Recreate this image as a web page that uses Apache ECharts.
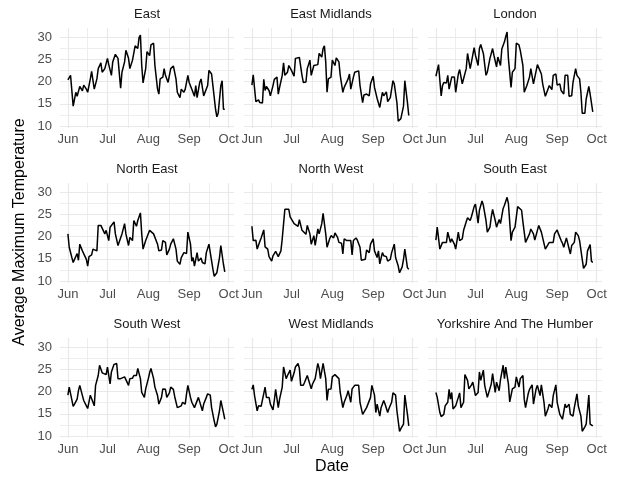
<!DOCTYPE html>
<html>
<head>
<meta charset="utf-8">
<script src="https://cdn.jsdelivr.net/npm/echarts@6/dist/echarts.min.js"></script>
<style>
html,body{margin:0;padding:0;background:#fff;}
#chart{width:631px;height:478px;}
</style>
</head>
<body>
<div id="chart"></div>
<script>
// Regions (facet order)
const regions = ['East','East Midlands','London','North East','North West','South East','South West','West Midlands','Yorkshire And The Humber'];

// x: days since 1 June; y: average maximum temperature
const eastDays = [0,2,4,6,7,9,11,12,14,15,17,18,20,22,23,25,26,28,30,31,33,34,36,38,40,41,43,44,46,47,49,50,51,53,54,55,56,57,59,60,62,63,65,66,68,69,70,72,73,74,76,77,78,80,82,83,85,86,88,89,91,92,94,96,97,98,100,101,103,104,106,107,109,110,112,113,114,116,117,118,119];
const eastTemp = [20.4,21.4,14.5,17.6,16.7,18.9,17.9,19.2,18.3,17.6,20.6,22.3,18.3,20.6,22.9,24.2,22.1,22.9,25.2,23.8,21.4,24.4,26.1,25.2,18.5,22.1,24.4,27.0,25.2,22.9,24.8,24.5,28.0,27.4,29.9,30.4,23.6,19.7,22.9,26.7,25.8,28.2,28.6,23.6,18.3,17.2,20.6,21.0,22.9,21.4,19.8,21.4,22.9,23.5,20.6,17.6,16.4,18.3,17.6,18.3,21.4,19.8,18.3,16.7,19.1,16.4,19.8,20.6,16.8,16.7,19.1,22.5,21.7,19.1,13.8,12.1,12.9,19.1,20.2,13.8,13.8];

const eastMidDays = [0,1,3,5,6,8,9,10,11,13,14,16,17,19,20,21,23,24,25,27,28,29,30,32,33,36,38,39,41,42,44,45,47,48,50,51,53,54,55,56,57,58,60,61,63,64,66,67,69,70,71,73,74,75,77,78,81,82,84,85,87,89,90,92,93,95,96,97,99,100,102,103,105,107,108,110,111,113,115,116,118,119];
const eastMidTemp = [19.2,21.5,15.5,15.9,15.3,15.2,20.5,18.0,18.9,18.0,16.8,19.1,20.5,21.0,17.2,18.7,21.4,24.2,21.4,22.1,23.6,23.8,22.5,21.2,25.2,25.4,21.4,19.8,19.9,22.9,24.8,21.4,23.6,23.3,23.8,26.3,25.5,27.4,28.0,24.4,17.6,20.6,21.0,24.8,23.6,25.3,24.4,21.4,17.6,18.7,19.1,20.6,21.7,18.3,21.0,22.1,22.4,19.1,15.3,17.0,17.2,16.8,19.5,21.2,18.7,16.2,16.4,14.2,17.6,16.8,17.7,15.5,16.4,20.2,19.5,15.3,11.1,11.7,14.5,20.2,15.3,12.4];

const londonDays = [0,2,4,5,6,8,9,10,12,13,14,15,17,18,20,21,23,24,26,27,29,30,32,33,34,36,38,39,41,43,44,46,47,49,50,52,53,54,55,57,58,60,61,63,64,66,67,69,71,72,74,75,77,78,80,81,83,85,86,88,89,91,92,94,95,97,98,100,101,103,104,106,107,109,110,111,113,114,116,117,119];
const londonTemp = [21.2,23.8,16.8,19.1,19.8,19.7,21.4,18.3,21.0,20.6,21.0,17.6,21.7,22.7,19.5,19.8,22.9,26.3,22.9,24.4,27.6,25.9,23.6,27.4,28.3,26.3,21.4,22.1,25.2,27.4,25.9,23.3,25.5,23.6,27.3,28.9,30.1,31.1,25.2,18.7,22.1,22.9,28.6,28.2,27.0,23.6,17.6,19.1,21.0,22.9,19.5,19.8,23.8,24.2,21.7,19.5,16.7,18.3,19.1,18.2,21.4,21.7,19.2,19.5,18.0,17.2,21.4,21.4,16.7,16.8,19.8,22.9,21.4,20.6,17.6,12.9,12.9,16.1,18.9,17.2,13.2];

const northEastDays = [0,1,3,4,5,7,8,9,11,12,14,15,16,18,19,20,22,23,25,26,28,29,31,32,33,35,36,38,39,41,43,44,46,47,49,50,52,53,55,56,57,59,60,62,63,65,66,68,69,71,72,74,75,77,78,80,82,83,85,86,88,90,91,93,94,95,96,98,99,101,102,104,105,107,108,110,111,113,115,116,118,119];
const northEastTemp = [20.6,17.6,15.3,14.2,14.9,16.2,14.7,18.3,16.8,16.4,14.9,13.4,15.5,15.9,17.2,16.8,16.8,22.5,22.5,22.9,20.6,21.4,19.1,22.1,22.3,23.3,20.6,18.0,18.3,20.6,22.9,20.6,18.0,19.8,19.1,23.6,22.3,23.6,25.3,20.6,17.2,19.1,19.1,21.4,21.0,20.6,20.2,18.3,16.8,17.0,19.1,18.7,15.9,17.2,18.3,19.5,17.2,14.5,13.8,15.3,16.4,16.2,21.0,18.3,14.5,15.3,13.4,16.4,14.5,15.2,14.2,13.9,16.4,18.3,16.4,12.7,11.1,11.9,15.3,18.0,13.8,12.1];

const northWestDays = [0,1,3,4,6,7,9,10,12,13,15,16,18,19,20,22,23,25,26,28,29,30,32,33,35,36,38,39,41,42,44,45,47,48,50,51,53,54,56,57,59,60,62,63,65,66,68,69,70,72,73,75,76,77,79,80,82,83,84,86,87,89,90,92,93,95,96,97,99,100,102,103,105,106,108,109,111,112,114,115,116,118,119];
const northWestTemp = [22.3,19.1,19.2,17.2,18.9,19.7,21.5,17.7,17.2,15.5,14.5,15.7,16.7,16.8,15.5,16.8,19.5,26.1,26.5,26.1,24.4,24.8,22.9,23.3,22.3,23.8,21.4,21.4,20.5,22.5,20.6,18.3,20.2,18.0,21.7,20.6,22.9,25.2,20.6,17.6,19.5,20.2,19.7,20.8,19.8,18.7,18.5,16.1,19.5,19.1,18.7,19.1,15.9,19.1,19.7,19.2,17.6,14.7,14.4,14.9,17.0,16.4,18.3,19.5,16.8,15.3,16.8,13.9,16.4,15.7,15.5,14.5,14.9,16.4,18.3,15.3,13.4,11.9,13.2,14.9,17.2,13.0,12.7];

const southEastDays = [0,1,3,5,6,8,9,11,12,14,15,17,18,20,21,23,24,26,27,29,30,32,33,35,36,38,39,41,42,43,45,46,48,49,51,52,54,55,57,58,60,62,63,65,66,68,69,71,72,74,75,77,78,80,81,83,84,86,87,89,90,92,93,95,96,97,99,100,102,103,105,106,108,109,111,112,114,115,117,118,119];
const southEastTemp = [19.2,22.1,17.2,18.7,19.1,18.7,21.0,18.7,19.5,18.3,17.2,21.0,19.1,19.5,21.4,23.3,24.2,23.6,24.5,26.7,27.3,23.0,25.9,28.0,27.0,23.6,21.0,22.1,24.4,26.1,23.6,22.1,23.8,22.9,26.3,27.0,28.8,27.4,19.1,21.0,22.1,26.7,26.3,25.9,23.3,18.7,19.1,20.6,21.7,20.6,19.2,21.4,22.5,21.0,20.6,17.2,17.6,18.7,18.5,18.7,20.6,21.5,20.6,19.1,18.5,17.6,19.7,19.8,16.1,18.0,18.7,21.0,20.2,19.1,14.9,12.9,13.8,16.8,18.2,14.5,14.2];

const southWestDays = [0,1,2,4,5,7,8,9,11,12,14,15,17,18,20,21,23,24,26,27,29,30,32,33,35,37,38,40,41,43,44,46,47,49,50,52,53,55,56,58,59,61,62,63,65,66,68,69,71,72,74,75,77,78,80,81,83,84,86,87,89,90,91,93,94,96,97,99,100,102,103,105,106,108,109,111,112,113,115,116,118,119];
const southWestTemp = [19.2,21.0,21.2,16.7,17.2,18.3,20.2,21.4,19.1,18.0,16.8,16.2,19.2,19.5,16.8,21.4,23.6,25.9,24.2,24.2,23.8,25.5,21.7,24.4,26.1,26.3,22.9,22.9,22.5,23.3,23.6,21.4,22.9,23.0,23.6,23.6,25.2,22.9,19.8,18.7,20.6,22.9,24.2,25.2,22.9,21.0,19.1,17.2,18.7,20.6,20.5,18.7,19.7,21.0,20.5,18.9,16.4,16.1,16.8,17.6,17.2,19.5,21.4,18.7,17.6,16.4,16.1,18.7,18.7,15.7,17.2,18.7,19.5,19.2,16.4,13.4,12.1,12.7,15.7,18.0,15.3,13.8];

const westMidDays = [0,1,2,4,5,7,8,10,11,13,14,16,17,18,20,21,23,24,26,27,29,30,32,33,35,36,37,39,40,42,43,45,46,48,49,50,51,52,54,55,56,57,58,60,61,63,64,66,67,69,70,72,73,75,76,78,79,81,82,84,85,87,88,90,91,93,94,95,97,98,100,101,103,104,106,107,109,110,112,113,115,116,118,119];
const westMidTemp = [20.5,21.5,19.1,15.7,16.8,16.7,16.7,21.0,18.7,18.7,17.2,15.9,18.0,20.5,16.4,18.3,21.0,25.5,22.9,23.6,24.8,22.3,24.2,25.5,26.3,25.2,21.4,21.4,22.1,23.6,23.8,20.6,21.7,22.9,22.5,26.3,25.2,22.9,26.3,26.7,22.9,18.0,20.5,20.6,23.3,23.8,24.0,22.9,19.8,16.4,17.6,19.1,20.2,17.6,20.6,21.4,21.5,21.4,17.6,14.9,14.9,16.4,16.4,18.7,21.4,19.2,15.3,17.2,14.5,16.4,18.0,17.2,15.3,16.2,17.6,19.7,19.2,15.7,11.1,11.7,12.7,19.2,14.9,12.3];

const yorkDays = [0,1,2,3,4,6,7,9,10,11,12,13,15,16,17,18,19,21,22,24,25,27,28,30,32,33,34,36,37,39,40,42,43,45,46,48,49,51,52,53,55,56,58,60,61,63,64,66,67,68,70,71,73,74,76,77,79,80,82,83,85,86,88,89,91,92,94,95,96,98,99,101,102,104,105,107,108,110,111,113,114,116,117,119];
const yorkTemp = [19.8,18.7,18.9,15.3,14.4,14.9,16.8,17.6,20.5,18.3,19.8,16.1,16.8,16.8,18.7,19.7,16.4,17.6,23.8,22.5,20.6,21.5,22.1,19.1,19.8,24.4,22.5,24.8,21.4,18.7,18.7,21.7,24.0,19.8,22.1,20.2,22.7,25.9,22.9,25.5,21.7,17.7,20.6,21.0,23.3,21.0,22.9,23.6,18.3,16.4,19.5,20.5,21.5,17.2,20.6,21.4,19.1,21.5,17.6,14.5,16.1,17.2,16.4,19.1,21.5,17.6,14.9,14.9,13.8,17.2,16.4,17.2,14.9,14.5,16.4,19.5,16.8,14.5,11.1,12.1,12.7,19.2,12.7,12.3];

// tick labels
const monthTicks = [0, 30, 61, 92, 122];
const monthLabels = ['Jun', 'Jul', 'Aug', 'Sep', 'Oct'];
const monthMinor = [15, 45.5, 76.5, 107];
const tempTicks = [10, 15, 20, 25, 30];
const tempMinor = [12.5, 17.5, 22.5, 27.5];

const seriesData = [
  [eastDays, eastTemp], [eastMidDays, eastMidTemp], [londonDays, londonTemp],
  [northEastDays, northEastTemp], [northWestDays, northWestTemp], [southEastDays, southEastTemp],
  [southWestDays, southWestTemp], [westMidDays, westMidTemp], [yorkDays, yorkTemp]
];

const FONT = '"Liberation Sans", Arial, sans-serif';
const colLeft = [60, 244, 428];
const rowTop = [28, 183, 338];
const PW = 174, PH = 100;
const XMIN = -6, XMAX = 126, YMIN = 9.6, YMAX = 32;

const grids = [], xAxes = [], yAxes = [], series = [], titles = [];
regions.forEach((name, i) => {
  const c = i % 3, r = Math.floor(i / 3);
  grids.push({left: colLeft[c], top: rowTop[r], width: PW, height: PH, containLabel: false});
  // major x
  xAxes.push({
    type: 'value', gridIndex: i, min: XMIN, max: XMAX,
    axisLine: {show: false},
    axisTick: {show: false, customValues: monthTicks},
    axisLabel: {show: true, customValues: monthTicks, margin: 5, color: '#4D4D4D', fontSize: 13, fontFamily: FONT,
      formatter: v => { const k = monthTicks.indexOf(v); return k >= 0 ? monthLabels[k] : ''; }},
    splitLine: {show: true, lineStyle: {color: '#E9E9E9', width: 1.2}},
    z: 1
  });
  // minor x
  xAxes.push({
    type: 'value', gridIndex: i, min: XMIN, max: XMAX,
    axisLine: {show: false},
    axisTick: {show: false, customValues: monthMinor},
    axisLabel: {show: false},
    splitLine: {show: true, lineStyle: {color: '#EEEEEE', width: 1}},
    z: 0
  });
  yAxes.push({
    type: 'value', gridIndex: i, min: YMIN, max: YMAX,
    axisLine: {show: false},
    axisTick: {show: false, customValues: tempTicks},
    axisLabel: {show: c === 0, customValues: tempTicks, margin: 8, color: '#4D4D4D', fontSize: 13, fontFamily: FONT},
    splitLine: {show: true, lineStyle: {color: '#E9E9E9', width: 1.2}},
    z: 1
  });
  yAxes.push({
    type: 'value', gridIndex: i, min: YMIN, max: YMAX,
    axisLine: {show: false},
    axisTick: {show: false, customValues: tempMinor},
    axisLabel: {show: false},
    splitLine: {show: true, lineStyle: {color: '#EEEEEE', width: 1}},
    z: 0
  });
  const [days, temps] = seriesData[i];
  series.push({
    type: 'line', name: name, xAxisIndex: 2 * i, yAxisIndex: 2 * i,
    data: days.map((d, k) => [d, temps[k]]),
    showSymbol: false, symbol: 'none',
    lineStyle: {color: '#000', width: 1.5},
    silent: true, z: 5
  });
  titles.push({
    text: name, left: colLeft[c] + PW / 2, top: rowTop[r] - 20, textAlign: 'center', padding: 0,
    textStyle: {fontSize: 13, fontWeight: 'normal', color: '#1A1A1A', fontFamily: FONT}
  });
});

const chart = echarts.init(document.getElementById('chart'), null, {renderer: 'canvas'});
chart.setOption({
  animation: false,
  backgroundColor: '#fff',
  title: titles,
  grid: grids,
  xAxis: xAxes,
  yAxis: yAxes,
  series: series,
  graphic: [
    {type: 'text', x: 332, y: 467, style: {text: 'Date', font: '16px ' + FONT, fill: '#000', textAlign: 'center', textVerticalAlign: 'middle'}},
    {type: 'text', x: 20, y: 232, rotation: Math.PI / 2, style: {text: 'Average Maximum Temperature', font: '16px ' + FONT, fill: '#000', textAlign: 'center', textVerticalAlign: 'middle'}}
  ]
});
</script>
</body>
</html>
